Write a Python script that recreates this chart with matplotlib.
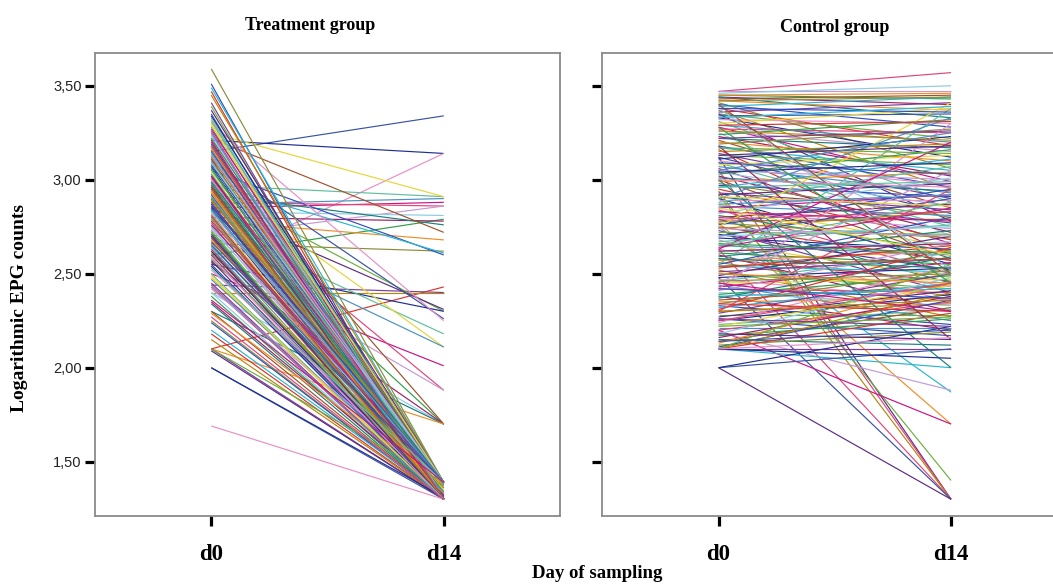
import matplotlib
matplotlib.use("Agg")
import matplotlib.pyplot as plt

# ---------------- data ----------------
days = ["d0", "d14"]
y_ticks = [1.5, 2.0, 2.5, 3.0, 3.5]
y_tick_labels = ["1,50", "2,00", "2,50", "3,00", "3,50"]
panel_titles = ["Treatment group", "Control group"]

treatment_d0 = [
    3.15, 3.21, 2.56, 2.97, 3.25, 2.87, 2.85, 2.88, 2.70, 2.83,
    2.60, 2.80, 2.92, 3.22, 2.78, 2.66, 3.05, 2.98, 2.10, 2.40,
    2.44, 2.95, 2.85, 3.10, 2.55, 3.30, 2.75, 3.00, 2.70, 2.50,
    2.90, 2.60, 2.40, 2.84, 2.56, 2.30, 3.12, 2.10,
    3.59, 3.51, 3.49, 3.47, 3.45, 3.41, 3.39, 3.37, 3.35, 3.34,
    3.32, 3.31, 3.30, 3.28, 3.27, 3.26, 3.24, 3.23, 3.22, 3.20,
    3.19, 3.18, 3.17, 3.16, 3.15, 3.14, 3.13, 3.12, 3.11, 3.10,
    3.09, 3.08, 3.07, 3.06, 3.05, 3.04, 3.03, 3.02, 3.01, 3.00,
    2.99, 2.98, 2.97, 2.96, 2.95, 2.94, 2.93, 2.92, 2.91, 2.90,
    2.89, 2.88, 2.87, 2.86, 2.85, 2.84, 2.83, 2.82, 2.81, 2.80,
    2.78, 2.77, 2.75, 2.74, 2.72, 2.71, 2.70, 2.69, 2.68, 2.66,
    2.65, 2.64, 2.63, 2.61, 2.60, 2.58, 2.57, 2.55, 2.54, 2.52,
    2.50, 2.48, 2.47, 2.45, 2.43, 2.42, 2.40, 2.38, 2.35, 2.34,
    2.30, 2.29, 2.25, 2.24, 2.20, 2.18, 2.15, 2.10, 2.10, 2.09,
    2.00, 2.00, 1.69, 3.33, 3.29, 3.25, 3.21, 3.18, 3.13, 3.09,
    3.06, 3.02, 2.99, 2.96, 2.93, 2.90, 2.87, 2.84, 2.81, 2.79,
    2.76, 2.73, 2.70, 2.67, 2.62, 2.59, 2.53, 2.49, 2.44, 2.36,
    2.27,
]
treatment_d14 = [
    3.34, 3.14, 3.14, 2.91, 2.91, 2.90, 2.88, 2.86, 2.86, 2.81,
    2.79, 2.78, 2.76, 2.72, 2.68, 2.62, 2.60, 2.61, 2.43, 2.40,
    2.40, 2.30, 2.31, 2.26, 2.30, 2.25, 2.18, 2.11, 2.11, 2.01,
    1.88, 1.88, 1.70, 1.70, 1.70, 1.70, 1.70, 1.70,
    1.39, 1.30, 1.39, 1.30, 1.39, 1.30, 1.31, 1.39, 1.30, 1.38,
    1.30, 1.39, 1.30, 1.32, 1.39, 1.30, 1.38, 1.30, 1.39, 1.30,
    1.33, 1.39, 1.30, 1.30, 1.39, 1.31, 1.30, 1.39, 1.30, 1.36,
    1.30, 1.39, 1.30, 1.32, 1.39, 1.30, 1.30, 1.38, 1.30, 1.39,
    1.30, 1.34, 1.30, 1.39, 1.30, 1.31, 1.39, 1.30, 1.37, 1.30,
    1.39, 1.30, 1.30, 1.39, 1.32, 1.30, 1.39, 1.30, 1.35, 1.30,
    1.39, 1.30, 1.31, 1.39, 1.30, 1.30, 1.38, 1.30, 1.33, 1.30,
    1.39, 1.30, 1.30, 1.36, 1.30, 1.39, 1.30, 1.31, 1.30, 1.39,
    1.30, 1.30, 1.34, 1.30, 1.30, 1.39, 1.30, 1.30, 1.32, 1.30,
    1.30, 1.38, 1.30, 1.30, 1.31, 1.30, 1.30, 1.30, 1.39, 1.30,
    1.30, 1.31, 1.30, 1.30, 1.39, 1.30, 1.30, 1.30, 1.39, 1.39,
    1.30, 1.30, 1.39, 1.30, 1.30, 1.39, 1.39, 1.39, 1.30, 1.30,
    1.39, 1.30, 1.30, 1.39, 1.30, 1.30, 1.39, 1.30, 1.30, 1.39,
    1.30,
]

control_d0 = [
    3.47, 3.47, 3.46, 3.45, 3.44, 3.44, 3.43, 3.42, 3.41, 3.40,
    3.39, 3.38, 3.37, 3.36, 3.35, 3.35, 3.34, 3.33, 3.32, 3.31,
    3.30, 3.29, 3.28, 3.27, 3.26, 3.25, 3.24, 3.23, 3.22, 3.21,
    3.20, 3.19, 3.18, 3.17, 3.16, 3.15, 3.14, 3.13, 3.12, 3.12,
    3.11, 3.10, 3.09, 3.08, 3.07, 3.06, 3.05, 3.05, 3.04, 3.03,
    3.02, 3.01, 3.00, 2.99, 2.98, 2.97, 2.96, 2.95, 2.94, 2.93,
    2.92, 2.92, 2.91, 2.90, 2.89, 2.88, 2.87, 2.86, 2.85, 2.84,
    2.83, 2.82, 2.81, 2.80, 2.79, 2.78, 2.77, 2.77, 2.76, 2.75,
    2.75, 2.74, 2.73, 2.72, 2.71, 2.70, 2.69, 2.68, 2.67, 2.66,
    2.65, 2.64, 2.63, 2.63, 2.62, 2.61, 2.60, 2.59, 2.58, 2.57,
    2.56, 2.55, 2.54, 2.53, 2.52, 2.51, 2.50, 2.49, 2.48, 2.48,
    2.47, 2.46, 2.45, 2.44, 2.43, 2.42, 2.41, 2.40, 2.39, 2.38,
    2.37, 2.36, 2.35, 2.34, 2.33, 2.32, 2.31, 2.30, 2.29, 2.28,
    2.27, 2.26, 2.25, 2.24, 2.23, 2.22, 2.21, 2.20, 2.20, 2.19,
    2.18, 2.17, 2.16, 2.15, 2.14, 2.13, 2.12, 2.11, 2.10, 2.10,
    2.10, 2.10, 2.10, 2.00, 2.00, 2.00, 2.42, 2.55, 2.75, 2.90,
    2.63, 2.30, 2.45, 3.38, 3.28, 3.18, 3.00, 3.40,
    3.45, 3.42, 3.38, 3.33, 3.29, 3.26, 3.22, 3.17, 3.13, 3.09,
    3.04, 3.00, 2.96, 2.91, 2.87, 2.83, 2.79, 2.74, 2.70, 2.66,
    2.62, 2.58, 2.54, 2.50, 2.46, 2.42, 2.38, 2.34, 2.30, 2.26,
    2.22, 2.18, 2.14, 2.10, 2.10, 2.65, 2.85, 3.05, 2.45, 2.25,
]
control_d14 = [
    3.57, 3.47, 3.50, 3.43, 3.40, 3.33, 3.45, 3.37, 3.06, 3.28,
    3.44, 3.18, 2.95, 3.41, 3.22, 2.78, 3.35, 3.12, 3.30, 2.88,
    3.38, 3.20, 2.99, 3.25, 3.15, 2.70, 3.32, 3.02, 3.17, 2.85,
    3.10, 3.27, 2.96, 3.05, 2.60, 3.19, 2.90, 3.08, 1.30, 2.82,
    3.23, 2.97, 2.75, 3.13, 2.93, 2.66, 1.30, 3.00, 2.86, 3.16,
    2.72, 2.94, 2.58, 3.04, 2.80, 2.91, 3.11, 2.68, 1.30, 2.84,
    1.40, 2.98, 2.77, 2.55, 2.89, 3.07, 2.64, 2.81, 2.92, 2.50,
    2.74, 3.01, 2.62, 2.87, 2.45, 2.79, 1.70, 2.69, 2.95, 1.87,
    2.57, 2.83, 2.40, 2.71, 2.52, 2.90, 2.63, 2.35, 2.76, 2.48,
    2.60, 2.85, 1.30, 2.43, 2.67, 2.55, 2.30, 2.73, 2.46, 2.62,
    2.38, 2.80, 2.51, 2.65, 2.27, 2.58, 2.42, 2.70, 1.30, 2.53,
    2.36, 2.61, 2.47, 2.25, 2.56, 2.40, 2.66, 2.33, 2.49, 2.20,
    2.59, 2.44, 2.37, 2.52, 2.23, 2.45, 2.64, 2.34, 2.50, 2.28,
    2.41, 2.17, 2.39, 2.54, 2.31, 2.44, 2.21, 1.70, 2.35, 1.88,
    2.48, 2.26, 2.38, 2.12, 2.32, 2.45, 2.19, 2.36, 2.00, 2.29,
    2.40, 2.10, 2.55, 1.30, 2.10, 2.22, 3.30, 3.38, 3.41, 3.33,
    3.20, 2.95, 3.05, 2.52, 2.45, 2.15, 2.00, 2.50,
    3.46, 3.44, 3.36, 3.39, 3.31, 3.21, 3.26, 3.14, 3.18, 3.03,
    3.09, 2.96, 2.99, 2.86, 2.92, 2.78, 2.83, 2.70, 2.75, 2.61,
    2.66, 2.53, 2.58, 2.45, 2.50, 2.37, 2.42, 2.30, 2.36, 2.22,
    2.27, 2.15, 2.20, 2.05, 2.16, 2.88, 2.60, 3.25, 2.30, 2.45,
]

line_colors = [
    "#3953A4", "#2E9E48", "#7D3C98", "#E0457B", "#29B6D1", "#E8D53A",
    "#F28C28", "#1F2F8F", "#9E1F63", "#6BAF3F", "#C39BD3", "#D9342B",
    "#4A90C2", "#8C8C3C", "#E88FC7", "#1B7F7A", "#5B2C83", "#8ECAE6",
    "#B8860B", "#C71585", "#2F4FBF", "#5FBF9F", "#A0522D",
]

# ---------------- figure ----------------
W, H = 1053, 584
fig = plt.figure(figsize=(W / 100, H / 100), dpi=100)

serif = ["Liberation Serif", "DejaVu Serif"]
sans = ["Liberation Sans", "DejaVu Sans"]

ax_l = 95 / W
ax_w = 465 / W
ax_b = 1 - 516 / H
ax_h = 463.3 / H
axes = [
    fig.add_axes([ax_l, ax_b, ax_w, ax_h]),
    fig.add_axes([602.3 / W, ax_b, ax_w, ax_h]),
]

xs = list(range(len(days)))
groups = [(treatment_d0, treatment_d14), (control_d0, control_d14)]

for k, (ax, (v0, v14)) in enumerate(zip(axes, groups)):
    for i, (a, b) in enumerate(zip(v0, v14)):
        ax.plot(xs, [a, b], color=line_colors[(i * 7 + k * 3) % len(line_colors)],
                lw=0.85, solid_capstyle="butt")
    ax.set_xlim(-0.5, 1.5)
    ax.set_ylim(1.211, 3.676)
    ax.set_xticks(xs)
    ax.set_xticklabels(days, fontfamily=serif, fontweight="bold", fontsize=16.5)
    ax.set_yticks(y_ticks)
    if k == 0:
        ax.set_yticklabels(y_tick_labels, fontfamily=sans, fontsize=10.5,
                           color="#222222")
    else:
        ax.set_yticklabels([])
    ax.tick_params(axis="y", length=7.2, width=2.3, color="black", pad=2.5)
    ax.tick_params(axis="x", length=7.5, width=2.3, color="black", pad=13)
    for s in ax.spines.values():
        s.set_color("#8a8a8a")
        s.set_linewidth(1.3)

fig.text(310.5 / W, 1 - 25 / H, panel_titles[0], ha="center", va="center",
         fontfamily=serif, fontweight="bold", fontsize=13)
fig.text(834.5 / W, 1 - 27 / H, panel_titles[1], ha="center", va="center",
         fontfamily=serif, fontweight="bold", fontsize=13)
fig.text(20 / W, 1 - 308 / H, "Logarithmic EPG counts", rotation=90,
         ha="center", va="center", fontfamily=serif, fontweight="bold", fontsize=14)
fig.text(596.7 / W, 1 - 573 / H, "Day of sampling", ha="center", va="center",
         fontfamily=serif, fontweight="bold", fontsize=13.5)

fig.savefig("out.png", dpi=100, facecolor="white")
